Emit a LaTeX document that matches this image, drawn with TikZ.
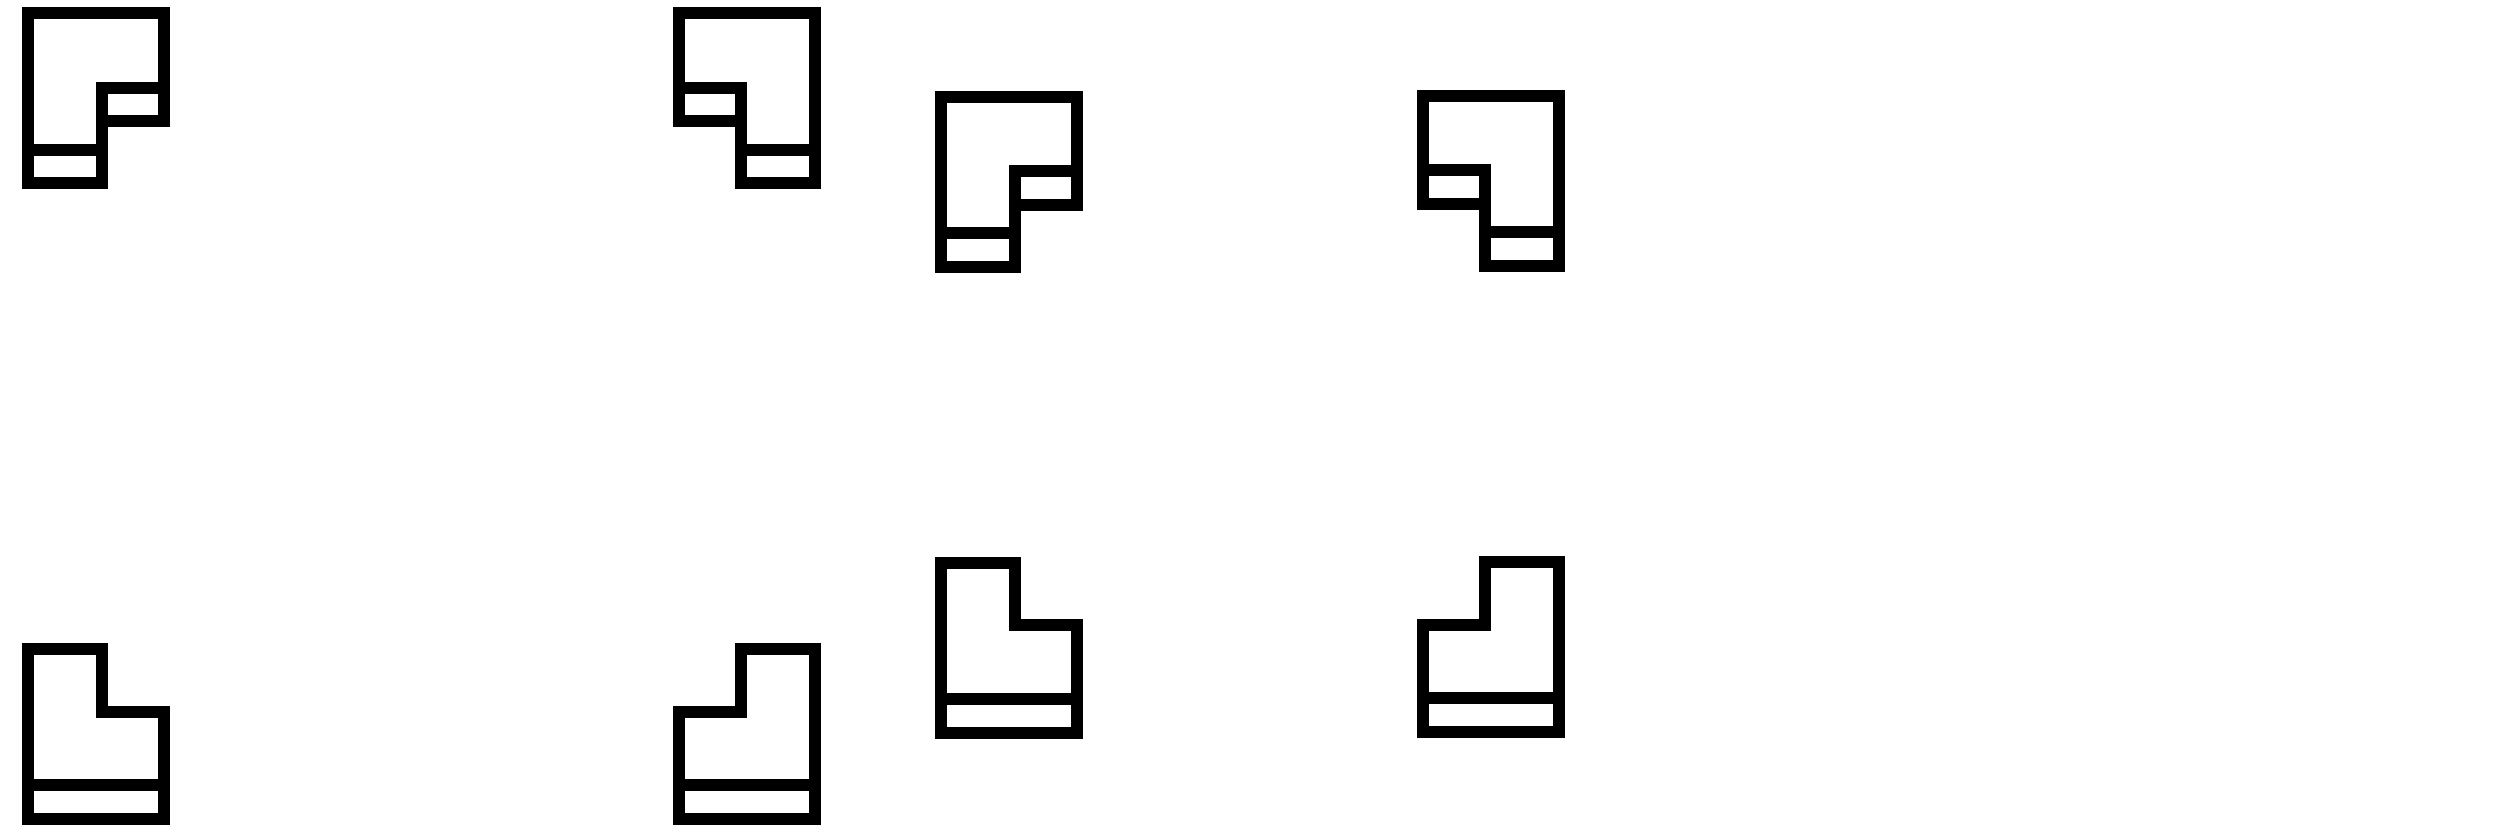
\documentclass[tikz,border=0pt]{standalone}
\usepackage{tikz}

\begin{document}
\begin{tikzpicture}[x=1cm,y=-1cm,room/.style={draw=black,line width=0.12cm,line join=miter}]
   \useasboundingbox (0,0) rectangle (25,8.33);
   % upper row
   \begin{scope}[shift={(0.28,0.133)}]
      \draw [room] (0,0) -- (1.36,0) -- (1.36,0.744) -- (0.74,0.744) -- (0.74,1.364) -- (0,1.364) -- cycle;
      \draw [room] (0.74,0.744) rectangle (1.36,1.08);
      \draw [room] (0,1.364) rectangle (0.74,1.70);
   \end{scope}
   \begin{scope}[shift={(6.787,0.133)}]
      \draw [room] (0,0) -- (1.36,0) -- (1.36,1.364) -- (0.62,1.364) -- (0.62,0.744) -- (0,0.744) -- cycle;
      \draw [room] (0,0.744) rectangle (0.62,1.08);
      \draw [room] (0.62,1.364) rectangle (1.36,1.70);
   \end{scope}
   \begin{scope}[shift={(9.413,0.967)}]
      \draw [room] (0,0) -- (1.36,0) -- (1.36,0.744) -- (0.74,0.744) -- (0.74,1.364) -- (0,1.364) -- cycle;
      \draw [room] (0.74,0.744) rectangle (1.36,1.08);
      \draw [room] (0,1.364) rectangle (0.74,1.70);
   \end{scope}
   \begin{scope}[shift={(14.227,0.96)}]
      \draw [room] (0,0) -- (1.36,0) -- (1.36,1.364) -- (0.62,1.364) -- (0.62,0.744) -- (0,0.744) -- cycle;
      \draw [room] (0,0.744) rectangle (0.62,1.08);
      \draw [room] (0.62,1.364) rectangle (1.36,1.70);
   \end{scope}
   % lower row
   \begin{scope}[shift={(0.28,6.493)}]
      \draw [room] (0,0) -- (0.74,0) -- (0.74,0.624) -- (1.36,0.624) -- (1.36,1.36) -- (0,1.36) -- cycle;
      \draw [room] (0,1.36) rectangle (1.36,1.70);
   \end{scope}
   \begin{scope}[shift={(6.787,6.493)}]
      \draw [room] (0.62,0) -- (1.36,0) -- (1.36,1.36) -- (0,1.36) -- (0,0.624) -- (0.62,0.624) -- cycle;
      \draw [room] (0,1.36) rectangle (1.36,1.70);
   \end{scope}
   \begin{scope}[shift={(9.413,5.633)}]
      \draw [room] (0,0) -- (0.74,0) -- (0.74,0.617) -- (1.36,0.617) -- (1.36,1.36) -- (0,1.36) -- cycle;
      \draw [room] (0,1.36) rectangle (1.36,1.70);
   \end{scope}
   \begin{scope}[shift={(14.227,5.623)}]
      \draw [room] (0.62,0) -- (1.36,0) -- (1.36,1.36) -- (0,1.36) -- (0,0.627) -- (0.62,0.627) -- cycle;
      \draw [room] (0,1.36) rectangle (1.36,1.70);
   \end{scope}
\end{tikzpicture}
\end{document}
